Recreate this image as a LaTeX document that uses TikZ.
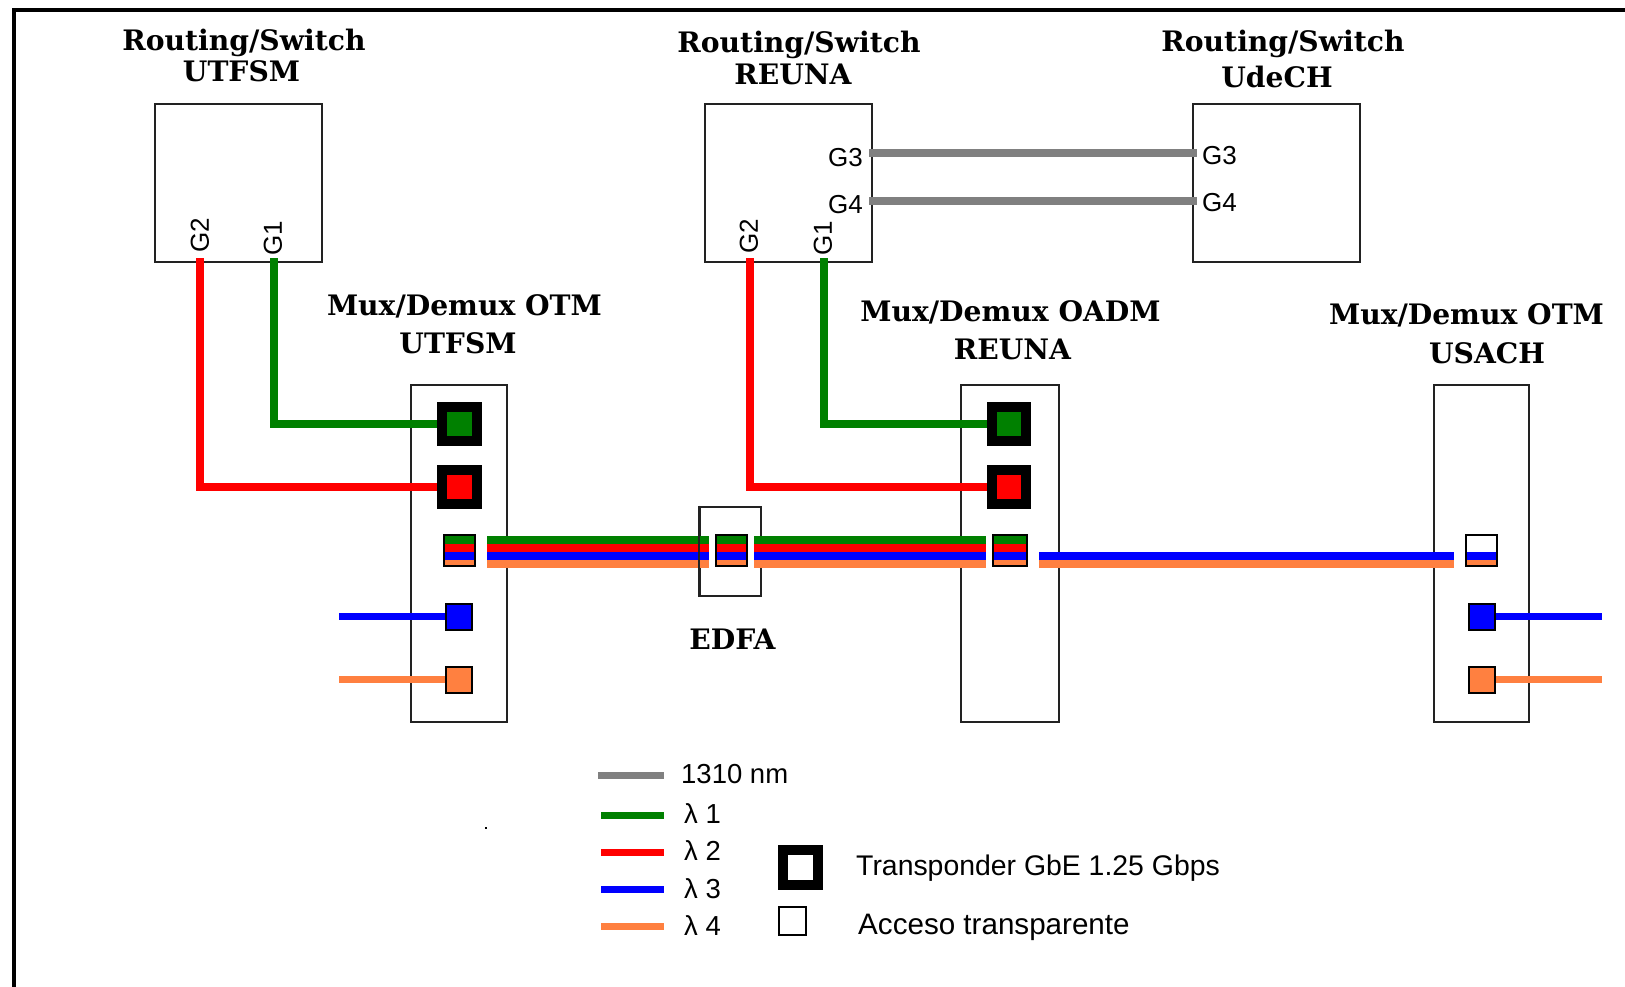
\documentclass[tikz,border=0pt]{standalone}
\usepackage{fontspec}
\setmainfont{Liberation Sans}
\newfontfamily\slabfont{DejaVu Serif}[BoldFont={DejaVu Serif Bold}]
\definecolor{lgreen}{HTML}{008000}
\definecolor{lred}{HTML}{FF0000}
\definecolor{lblue}{HTML}{0000FF}
\definecolor{lorange}{HTML}{FF8040}
\definecolor{lgray}{HTML}{808080}
\definecolor{edge}{HTML}{222222}
\tikzset{
  x=1pt,y=-1pt,
  box/.style={draw=edge,line width=2pt,fill=none,rectangle,inner sep=0pt},
  title/.style={font=\slabfont\bfseries\fontsize{28.2}{28}\selectfont,inner sep=0pt,text=black},
  lab/.style={font=\fontsize{27.5}{28}\selectfont,inner sep=0pt,text=black},
  port/.style={font=\fontsize{26}{26}\selectfont,inner sep=0pt,text=black},
  trans/.style={draw=black,line width=10pt,rectangle,inner sep=0pt,minimum size=34.5pt},
  chan/.style={draw=black,line width=2pt,rectangle,inner sep=0pt,minimum width=26pt,minimum height=26pt},
  allbands/.style={draw=black,line width=2pt,rectangle,inner sep=0pt,fill=white,minimum height=31pt,
    path picture={
      \fill[lgreen] ([yshift=14.5pt]path picture bounding box.center -| path picture bounding box.west) rectangle ([yshift=6.5pt]path picture bounding box.center -| path picture bounding box.east);
      \fill[lred] ([yshift=6.5pt]path picture bounding box.center -| path picture bounding box.west) rectangle ([yshift=-1.5pt]path picture bounding box.center -| path picture bounding box.east);
      \fill[lblue] ([yshift=-1.5pt]path picture bounding box.center -| path picture bounding box.west) rectangle ([yshift=-9.5pt]path picture bounding box.center -| path picture bounding box.east);
      \fill[lorange] ([yshift=-9.5pt]path picture bounding box.center -| path picture bounding box.west) rectangle (path picture bounding box.south east);
    }},
  halfbands/.style={draw=black,line width=2pt,rectangle,inner sep=0pt,fill=white,minimum height=31pt,
    path picture={
      \fill[lblue] ([yshift=-1.5pt]path picture bounding box.center -| path picture bounding box.west) rectangle ([yshift=-9.5pt]path picture bounding box.center -| path picture bounding box.east);
      \fill[lorange] ([yshift=-9.5pt]path picture bounding box.center -| path picture bounding box.west) rectangle (path picture bounding box.south east);
    }},
  wave/.style={line width=8pt},
  grayline/.style={line width=8pt,color=lgray},
  legline/.style={line width=7pt},
}
\begin{document}
\begin{tikzpicture}
\useasboundingbox (0,0) rectangle (1625,987);
\fill[white] (0,0) rectangle (1625,987);
% frame
\coordinate (fa) at (14,987);
\coordinate (fb) at (14,10);
\coordinate (fc) at (1625,10);
\draw[black,line width=4.5pt] (fa) -- (fb) -- (fc);

% routers
\node[box,minimum width=166.5pt,minimum height=158pt] (ru) at (238.5,183) {};
\node[box,minimum width=166.5pt,minimum height=158pt] (rr) at (788.5,183) {};
\node[box,minimum width=166.5pt,minimum height=158pt] (rd) at (1276.5,183) {};

% mux boxes
\node[box,minimum width=95.5pt,minimum height=337pt] (mu) at (459,553) {};
\node[box,minimum width=97.5pt,minimum height=337pt] (mr) at (1010,553) {};
\node[box,minimum width=94.5pt,minimum height=337pt] (ma) at (1481.5,553) {};
\node[box,minimum width=61pt,minimum height=89pt] (ed) at (730,551) {};

% titles
\node[title] (t1) at (244,42.5) {Routing/Switch};
\node[title] (t2) at (241.5,71) {UTFSM};
\node[title] (t3) at (799,44.5) {Routing/Switch};
\node[title] (t4) at (793,74.5) {REUNA};
\node[title] (t5) at (1283,44) {Routing/Switch};
\node[title] (t6) at (1277,76.5) {UdeCH};
\node[title] (t7) at (464.5,306) {Mux/Demux OTM};
\node[title] (t8) at (458,343) {UTFSM};
\node[title] (t9) at (1010.5,312) {Mux/Demux OADM};
\node[title] (t10) at (1012.5,349) {REUNA};
\node[title] (t11) at (1466.5,315) {Mux/Demux OTM};
\node[title] (t12) at (1487,353) {USACH};
\node[title] (t13) at (732.5,639) {EDFA};

% port labels
\node[port,rotate=90] (pu2) at (200,235) {G2};
\node[port,rotate=90] (pu1) at (273,238) {G1};
\node[port,rotate=90] (pr2) at (749,236) {G2};
\node[port,rotate=90] (pr1) at (823,238.5) {G1};
\node[port,anchor=east] (pr3) at (863,157.5) {G3};
\node[port,anchor=east] (pr4) at (863,205) {G4};
\node[port,anchor=west] (pd3) at (1202,155.5) {G3};
\node[port,anchor=west] (pd4) at (1202,203) {G4};

% transponders
\node[trans,fill=lgreen] (tu1) at (459.5,424) {};
\node[trans,fill=lred] (tu2) at (459.5,487) {};
\node[trans,fill=lgreen] (tr1) at (1009,424) {};
\node[trans,fill=lred] (tr2) at (1009,487) {};

% multi-wavelength ports
\node[allbands,minimum width=31pt] (xu) at (459.5,550.5) {};
\node[allbands,minimum width=31pt] (xe) at (731.5,550.5) {};
\node[allbands,minimum width=34pt] (xr) at (1010,550.5) {};
\node[halfbands,minimum width=31pt] (xa) at (1481.5,550.5) {};

% single channels
\node[chan,fill=lblue] (cu3) at (459,616.5) {};
\node[chan,fill=lorange] (cu4) at (459,679.5) {};
\node[chan,fill=lblue] (ca3) at (1482,616.5) {};
\node[chan,fill=lorange] (ca4) at (1482,679.5) {};

% gray links
\draw[grayline] ([shift={(-3.5pt,29.5pt)}]rr.east) -- ([shift={(5pt,29.5pt)}]rd.west);
\draw[grayline] ([shift={(-3.5pt,-18pt)}]rr.east) -- ([shift={(5pt,-18pt)}]rd.west);

% router to transponder
\coordinate (su1) at (274,258);
\coordinate (su2) at (200,258);
\coordinate (sr1) at (824,258);
\coordinate (sr2) at (750,258);
\draw[wave,lgreen] (su1) |- (tu1.west);
\draw[wave,lred] (su2) |- (tu2.west);
\draw[wave,lgreen] (sr1) |- (tr1.west);
\draw[wave,lred] (sr2) |- (tr2.west);

% free ends
\coordinate (eu3) at (339,616.5);
\coordinate (eu4) at (339,679.5);
\coordinate (ea3) at (1602,616.5);
\coordinate (ea4) at (1602,679.5);
\draw[line width=7pt,lblue] (eu3) -- (cu3.west);
\draw[line width=7pt,lorange] (eu4) -- (cu4.west);
\draw[line width=7pt,lblue] (ca3.east) -- (ea3);
\draw[line width=7pt,lorange] (ca4.east) -- (ea4);

% bundles
\draw[wave,lgreen] ([shift={(11pt,10.5pt)}]xu.east) -- ([shift={(-6pt,10.5pt)}]xe.west);
\draw[wave,lred] ([shift={(11pt,2.5pt)}]xu.east) -- ([shift={(-6pt,2.5pt)}]xe.west);
\draw[wave,lblue] ([shift={(11pt,-5.5pt)}]xu.east) -- ([shift={(-6pt,-5.5pt)}]xe.west);
\draw[wave,lorange] ([shift={(11pt,-13.5pt)}]xu.east) -- ([shift={(-6pt,-13.5pt)}]xe.west);
\draw[wave,lgreen] ([shift={(6pt,10.5pt)}]xe.east) -- ([shift={(-6pt,10.5pt)}]xr.west);
\draw[wave,lred] ([shift={(6pt,2.5pt)}]xe.east) -- ([shift={(-6pt,2.5pt)}]xr.west);
\draw[wave,lblue] ([shift={(6pt,-5.5pt)}]xe.east) -- ([shift={(-6pt,-5.5pt)}]xr.west);
\draw[wave,lorange] ([shift={(6pt,-13.5pt)}]xe.east) -- ([shift={(-6pt,-13.5pt)}]xr.west);
\draw[wave,lblue] ([shift={(11pt,-5.5pt)}]xr.east) -- ([shift={(-11pt,-5.5pt)}]xa.west);
\draw[wave,lorange] ([shift={(11pt,-13.5pt)}]xr.east) -- ([shift={(-11pt,-13.5pt)}]xa.west);
% EDFA left edge passes in front of the bundle
\draw[draw=edge,line width=2pt] (ed.north west) -- (ed.south west);

% legend
\coordinate (l0a) at (598,775); \coordinate (l0b) at (664,775);
\coordinate (l1a) at (601,815); \coordinate (l1b) at (664,815);
\coordinate (l2a) at (601,852); \coordinate (l2b) at (664,852);
\coordinate (l3a) at (601,889); \coordinate (l3b) at (664,889);
\coordinate (l4a) at (601,926); \coordinate (l4b) at (664,926);
\draw[legline,lgray] (l0a) -- (l0b);
\draw[legline,lgreen] (l1a) -- (l1b);
\draw[legline,lred] (l2a) -- (l2b);
\draw[legline,lblue] (l3a) -- (l3b);
\draw[legline,lorange] (l4a) -- (l4b);
\node[lab,anchor=west] (n0) at (681,774) {1310 nm};
\node[lab,anchor=west] (n1) at (684,814) {λ 1};
\node[lab,anchor=west] (n2) at (684,851) {λ 2};
\node[lab,anchor=west] (n3) at (684,889) {λ 3};
\node[lab,anchor=west] (n4) at (684,926) {λ 4};
\node[trans,fill=white] (lt) at (800.5,867.5) {};
\node[box,draw=black,fill=white,minimum width=27pt,minimum height=28pt] (la) at (792,920.5) {};
\node[lab,anchor=west,font=\fontsize{28.4}{28}\selectfont] (nt) at (856,868) {Transponder GbE 1.25 Gbps};
\node[lab,anchor=west,font=\fontsize{29.6}{28}\selectfont] (na) at (858,927) {Acceso transparente};
% stray dot
\fill[black] (485,827) rectangle (487,829);
\end{tikzpicture}
\end{document}
